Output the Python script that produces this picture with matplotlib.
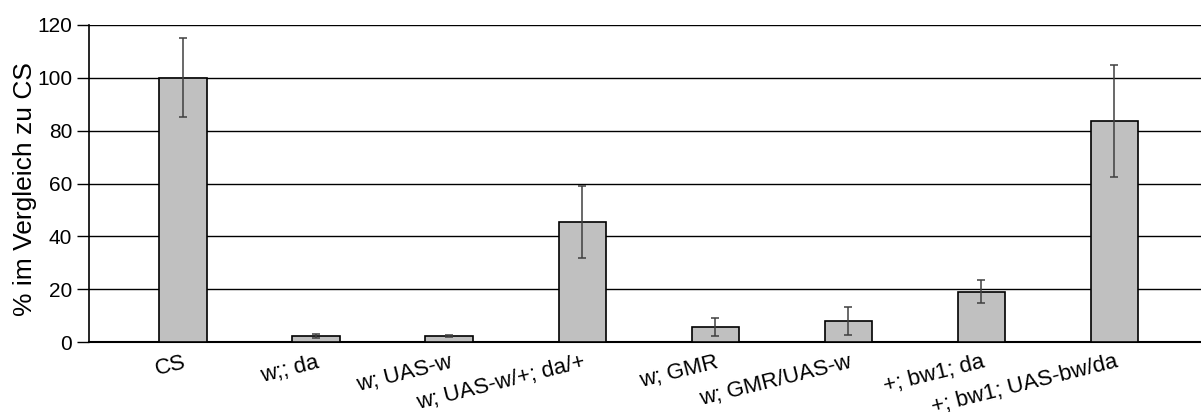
import matplotlib
matplotlib.use('Agg')
import matplotlib.pyplot as plt

# genotypes and values
labels = ['CS', 'w;; da', 'w; UAS-w', 'w; UAS-w/+; da/+', 'w; GMR',
          'w; GMR/UAS-w', '+; bw1; da', '+; bw1; UAS-bw/da']
values = [100, 2.3, 2.3, 45.5, 5.6, 7.9, 19.0, 83.7]
errors = [15, 0.7, 0.5, 13.7, 3.3, 5.2, 4.3, 21.3]

plt.rcParams['font.family'] = ['Liberation Sans', 'DejaVu Sans']

fig = plt.figure(figsize=(12.01, 4.12), dpi=100)
ax = fig.add_axes([89/1201, 1-342/412, 1-89/1201, 317/412])

x = list(range(len(labels)))
ax.bar(x, values, width=0.355, color='#c0c0c0', edgecolor='black',
       linewidth=1.2, zorder=3)
ax.errorbar(x, values, yerr=errors, fmt='none', ecolor='#404040',
            elinewidth=1.1, capsize=3, capthick=1.1, zorder=4)

ax.set_ylim(0, 120)
ax.set_yticks(range(0, 121, 20))
ax.set_xlim(-0.706, 7.65)
ax.yaxis.grid(True, color='black', linewidth=1)
ax.set_axisbelow(True)

for s in ['top', 'right']:
    ax.spines[s].set_visible(False)
ax.spines['left'].set_linewidth(1.2)
ax.spines['bottom'].set_linewidth(1.5)

ax.tick_params(axis='y', length=9, width=1, labelsize=15, pad=3)
ax.tick_params(axis='x', length=0, labelsize=16, pad=7)
ax.set_xticks(x)
ax.set_xticklabels(labels, rotation=14, ha='right', va='top',
                   rotation_mode='anchor')
ax.set_ylabel('% im Vergleich zu CS', fontsize=19)
ax.yaxis.set_label_coords(-0.047, 0.483)

fig.set_facecolor('white')
fig.savefig('out.png', dpi=100)
